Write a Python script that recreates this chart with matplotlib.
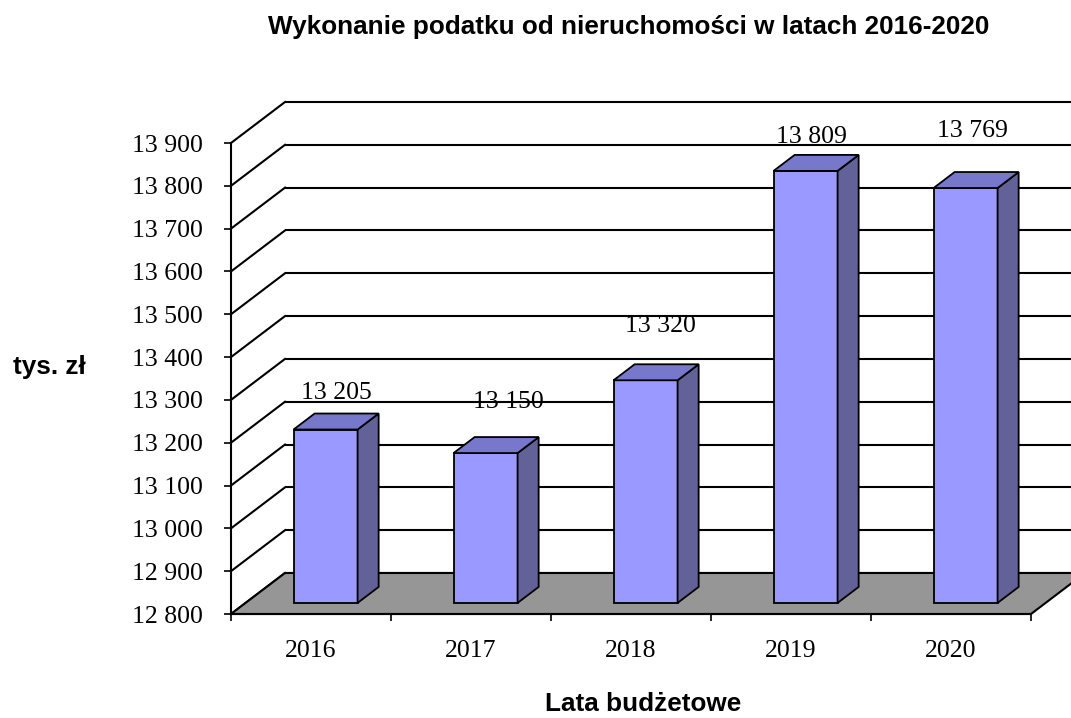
"""Wykonanie podatku od nieruchomosci 2016-2020 - pseudo-3D bar chart in Excel style."""

import matplotlib

matplotlib.use("Agg")
import matplotlib.pyplot as plt
from matplotlib.patches import Polygon
from matplotlib.ticker import FixedLocator, FuncFormatter

YEARS = ["2016", "2017", "2018", "2019", "2020"]
VALUES = [13205, 13150, 13320, 13809, 13769]
Y_MIN = 12800
Y_MAX = 13900
Y_STEP = 100

TITLE = "Wykonanie podatku od nieruchomości w latach 2016-2020"
X_LABEL = "Lata budżetowe"
Y_LABEL = "tys. zł"

_C_FRONT = "#9999ff"
_C_TOP = "#7777cc"
_C_SIDE = "#626299"
_C_FLOOR = "#969696"

FIG_W, FIG_H = 1071, 718
# front plane of the plot area, in pixels
PX_LEFT, PX_RIGHT = 231, 1031
PX_TOP, PX_BOTTOM = 143, 614
# depth of the 3D box, in pixels
DEPTH_PX = (54, 41)
# data label nudges (pixels), Excel places them a bit irregularly
LABEL_NUDGE = [(0, 10), (12, 24), (4, 27), (-5, 7), (-4, 30)]


def _fmt(v, _pos=None):
    return f"{int(v):,}".replace(",", " ")


def main() -> None:
    plt.rcParams.update({
        "font.family": "serif",
        "font.serif": ["Liberation Serif", "DejaVu Serif"],
        "figure.facecolor": "white",
    })
    fig = plt.figure(figsize=(FIG_W / 100, FIG_H / 100), dpi=100)
    ax = fig.add_axes([
        PX_LEFT / FIG_W,
        1 - PX_BOTTOM / FIG_H,
        (PX_RIGHT - PX_LEFT) / FIG_W,
        (PX_BOTTOM - PX_TOP) / FIG_H,
    ])
    n = len(YEARS)
    ax.set_xlim(0, n)
    ax.set_ylim(Y_MIN, Y_MAX)
    ax.set_facecolor("none")

    # depth offset in data units
    px_per_cat = (PX_RIGHT - PX_LEFT) / n
    px_per_val = (PX_BOTTOM - PX_TOP) / (Y_MAX - Y_MIN)
    dx = DEPTH_PX[0] / px_per_cat
    dy = DEPTH_PX[1] / px_per_val

    ticks = list(range(Y_MIN, Y_MAX + 1, Y_STEP))
    lw = 1.5
    # back wall gridlines and left wall diagonals
    for v in ticks:
        ax.plot([dx, n + dx + 0.5], [v + dy, v + dy], color="black", lw=lw,
                clip_on=False, zorder=1, solid_capstyle="butt")
        ax.plot([0, dx], [v, v + dy], color="black", lw=lw, clip_on=False, zorder=1)

    # floor
    floor = Polygon([(0, Y_MIN), (n, Y_MIN), (n + dx, Y_MIN + dy), (dx, Y_MIN + dy)],
                    closed=True, facecolor=_C_FLOOR, edgecolor="black", lw=lw,
                    clip_on=False, zorder=2)
    ax.add_patch(floor)

    # bars
    f0, fd = 0.27, 0.39
    half_w = 0.2
    for i, v in enumerate(VALUES):
        ox, oy = f0 * dx, f0 * dy
        x0 = i + 0.5 - half_w + ox
        x1 = i + 0.5 + half_w + ox
        y0 = Y_MIN + oy
        y1 = v + oy
        bx, by = fd * dx, fd * dy
        kw = dict(closed=True, edgecolor="black", lw=1.3, clip_on=False,
                  zorder=3, joinstyle="miter")
        ax.add_patch(Polygon([(x0, y0), (x1, y0), (x1, y1), (x0, y1)],
                             facecolor=_C_FRONT, **kw))
        ax.add_patch(Polygon([(x1, y0), (x1 + bx, y0 + by), (x1 + bx, y1 + by), (x1, y1)],
                             facecolor=_C_SIDE, **kw))
        ax.add_patch(Polygon([(x0, y1), (x1, y1), (x1 + bx, y1 + by), (x0 + bx, y1 + by)],
                             facecolor=_C_TOP, **kw))
        ax.annotate(_fmt(v), xy=(i + 0.5 + ox + bx / 2, y1 + by),
                    xytext=LABEL_NUDGE[i], textcoords="offset pixels",
                    ha="center", va="bottom", fontsize=18.5, zorder=4,
                    annotation_clip=False)

    # axes
    for side in ("top", "right"):
        ax.spines[side].set_visible(False)
    for side in ("left", "bottom"):
        ax.spines[side].set_linewidth(lw)
        ax.spines[side].set_zorder(5)
    ax.yaxis.set_major_locator(FixedLocator(ticks))
    ax.yaxis.set_major_formatter(FuncFormatter(_fmt))
    ax.tick_params(axis="y", direction="out", length=5, width=1.2, pad=15, labelsize=18.5)
    ax.xaxis.set_major_locator(FixedLocator(list(range(n + 1))))
    ax.xaxis.set_major_formatter(FuncFormatter(lambda v, p: ""))
    ax.xaxis.set_minor_locator(FixedLocator([i + 0.5 for i in range(n)]))
    ax.set_xticklabels(YEARS, minor=True)
    ax.tick_params(axis="x", which="major", direction="out", length=5, width=1.2)
    ax.tick_params(axis="x", which="minor", length=0, pad=19, labelsize=18.5)

    sans = ["Liberation Sans", "DejaVu Sans"]
    fs = 18.8
    fig.text(628.5 / FIG_W, 1 - 34 / FIG_H, TITLE, ha="center", va="baseline",
             fontsize=fs, fontweight="bold", family=sans)
    fig.text(643 / FIG_W, 1 - 711 / FIG_H, X_LABEL, ha="center", va="baseline",
             fontsize=fs, fontweight="bold", family=sans)
    fig.text(49 / FIG_W, 1 - 374 / FIG_H, Y_LABEL, ha="center", va="baseline",
             fontsize=fs, fontweight="bold", family=sans)

    fig.savefig("out.png", dpi=100)
    plt.close(fig)


if __name__ == "__main__":
    main()
